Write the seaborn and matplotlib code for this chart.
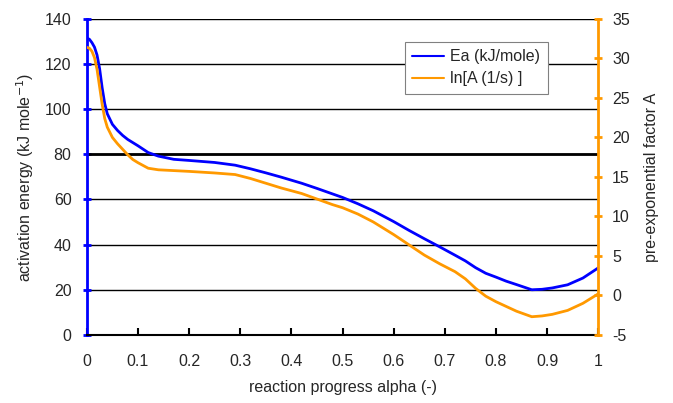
import numpy as np
import pandas as pd
import matplotlib
matplotlib.use("Agg")
import matplotlib.pyplot as plt
from matplotlib.ticker import FuncFormatter, MultipleLocator
import seaborn as sns

# values
alpha = [0.0, 0.005, 0.01, 0.015, 0.02, 0.025, 0.03, 0.035, 0.04, 0.05, 0.06, 0.07,
         0.08, 0.09, 0.1, 0.12, 0.14, 0.17, 0.2, 0.25, 0.29, 0.32, 0.35, 0.38,
         0.42, 0.45, 0.48, 0.5, 0.53, 0.56, 0.6, 0.63, 0.66, 0.69, 0.72, 0.74,
         0.76, 0.78, 0.8, 0.82, 0.84, 0.87, 0.89, 0.91, 0.94, 0.97, 1.0]
ea = [131.5, 131, 129.5, 127.5, 124, 118, 109.5, 102.5, 98, 93.3, 90.6, 88.4,
      86.6, 85.2, 83.8, 80.8, 79.2, 77.8, 77.3, 76.4, 75.2, 73.6, 71.8, 69.9,
      67.2, 64.9, 62.5, 60.9, 58.1, 55, 50.2, 46.3, 42.6, 39, 35.3, 32.8,
      29.8, 27.3, 25.6, 23.8, 22.3, 20, 20.2, 20.8, 22.2, 25.2, 29.7]
ln_a = [31.4, 31.3, 30.9, 30.1, 28.6, 26.4, 24.2, 22.4, 21.3, 20.0, 19.2, 18.5,
        17.8, 17.2, 16.8, 16.1, 15.9, 15.8, 15.7, 15.5, 15.3, 14.8, 14.2, 13.6,
        12.9, 12.2, 11.5, 11.1, 10.3, 9.3, 7.7, 6.4, 5.1, 4.0, 3.0, 2.1,
        0.9, -0.1, -0.8, -1.4, -2.0, -2.7, -2.6, -2.4, -1.9, -1.0, 0.2]

df = pd.DataFrame({"alpha": alpha, "Ea": ea, "lnA": ln_a})

sns.set_style("white")
plt.rcParams["font.family"] = ["Liberation Sans", "DejaVu Sans"]
plt.rcParams["axes.unicode_minus"] = False
fs = 11.5

blue = "#0000ff"
orange = "#ff9900"

fig = plt.figure(figsize=(6.73, 4.03), dpi=100)
ax = fig.add_axes([0.129, 0.169, 0.76, 0.784])
ax2 = ax.twinx()

sns.lineplot(data=df, x="alpha", y="Ea", ax=ax, color=blue, linewidth=2,
             label="Ea (kJ/mole)", legend=False)
sns.lineplot(data=df, x="alpha", y="lnA", ax=ax2, color=orange, linewidth=2,
             label="ln[A (1/s) ]", legend=False)

ax.set_xlim(0, 1)
ax.set_ylim(0, 140)
ax2.set_ylim(-5, 35)
ax.xaxis.set_major_locator(MultipleLocator(0.1))
ax.xaxis.set_major_formatter(FuncFormatter(lambda v, p: f"{v:g}"))
ax.yaxis.set_major_locator(MultipleLocator(20))
ax2.yaxis.set_major_locator(MultipleLocator(5))

# horizontal grid lines, the 80 line is drawn heavier in the original
ax.yaxis.grid(True, color="black", linewidth=1)
ax.set_axisbelow(True)
ax.axhline(80, color="black", linewidth=2, zorder=1)

for a in (ax, ax2):
    for s in a.spines.values():
        s.set_visible(False)
ax.spines["left"].set_visible(True)
ax.spines["left"].set_color(blue)
ax.spines["left"].set_linewidth(2)
ax.spines["bottom"].set_visible(True)
ax.spines["bottom"].set_color("black")
ax.spines["bottom"].set_linewidth(1.5)
ax2.spines["right"].set_visible(True)
ax2.spines["right"].set_color(orange)
ax2.spines["right"].set_linewidth(2)

ax.tick_params(axis="y", direction="inout", length=6, width=2, color=blue,
               labelsize=fs, left=True, pad=8)
ax.tick_params(axis="x", direction="in", length=5, width=1.5, color="black",
               labelsize=fs, bottom=True, pad=14)
ax2.tick_params(axis="y", direction="inout", length=6, width=2, color=orange,
                labelsize=fs, right=True, pad=7)

ax.set_xlabel("reaction progress alpha (-)", fontsize=fs, labelpad=8)
ax.set_ylabel(r"activation energy (kJ mole$^{-1}$)", fontsize=fs, labelpad=6)
ax2.set_ylabel("pre-exponential factor A", fontsize=fs, labelpad=10)

h1, l1 = ax.get_legend_handles_labels()
h2, l2 = ax2.get_legend_handles_labels()
leg = ax2.legend(h1 + h2, l1 + l2, loc="upper left",
                 bbox_to_anchor=(0.622, 0.927), borderaxespad=0,
                 frameon=True, fancybox=False, framealpha=1,
                 edgecolor="#808080", handlelength=2.0, handletextpad=0.4,
                 borderpad=0.45, labelspacing=0.45, fontsize=fs)
for line in leg.get_lines():
    line.set_linewidth(1.5)
leg.get_frame().set_linewidth(0.8)

fig.savefig("out.png", dpi=100)
